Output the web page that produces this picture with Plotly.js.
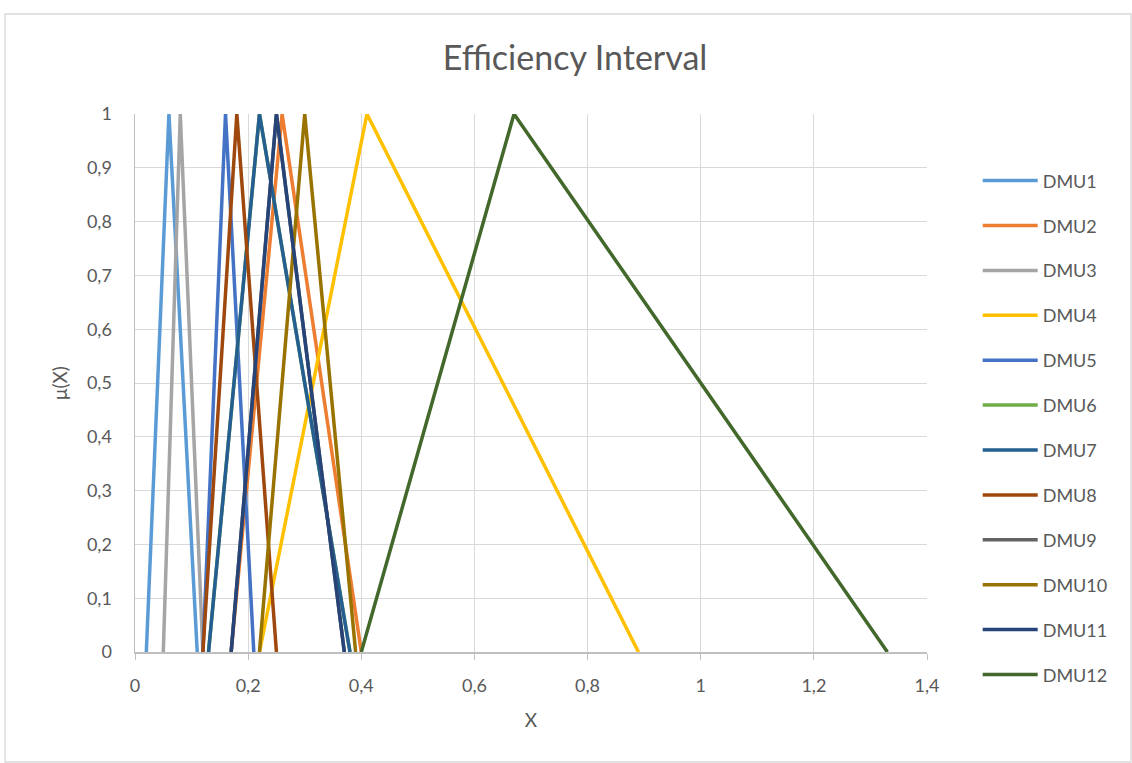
<!DOCTYPE html>
<html>
<head>
<meta charset="utf-8">
<script src="https://cdn.plot.ly/plotly-3.0.1.min.js"></script>
<style>
html,body{margin:0;padding:0;background:#fff;}
#chart{width:1132px;height:763px;}
</style>
</head>
<body>
<div id="chart"></div>
<script>
// Triangular fuzzy numbers (left, peak, right) per DMU
const seriesNames = ["DMU1","DMU2","DMU3","DMU4","DMU5","DMU6","DMU7","DMU8","DMU9","DMU10","DMU11","DMU12"];
const DMU1  = [0.02, 0.06, 0.11];
const DMU2  = [0.17, 0.26, 0.40];
const DMU3  = [0.05, 0.08, 0.12];
const DMU4  = [0.22, 0.41, 0.89];
const DMU5  = [0.12, 0.16, 0.21];
const DMU6  = [0.13, 0.22, 0.38];
const DMU7  = [0.13, 0.22, 0.38];
const DMU8  = [0.12, 0.18, 0.25];
const DMU9  = [0.17, 0.25, 0.37];
const DMU10 = [0.22, 0.30, 0.39];
const DMU11 = [0.17, 0.25, 0.37];
const DMU12 = [0.40, 0.67, 1.33];
const membership = [0, 1, 0];
const xTickVals = [0, 0.2, 0.4, 0.6, 0.8, 1, 1.2, 1.4];
const yTickVals = [0, 0.1, 0.2, 0.3, 0.4, 0.5, 0.6, 0.7, 0.8, 0.9, 1];

const seriesX = [DMU1, DMU2, DMU3, DMU4, DMU5, DMU6, DMU7, DMU8, DMU9, DMU10, DMU11, DMU12];
const colors = ["#5B9BD5","#ED7D31","#A5A5A5","#FFC000","#4472C4","#70AD47","#255E91","#9E480E","#636363","#997300","#264478","#43682B"];

const traces = seriesX.map((xs, i) => ({
  type: "scatter",
  mode: "lines",
  name: seriesNames[i],
  x: xs,
  y: membership,
  line: {color: colors[i], width: 3.5},
  legendgroup: "g" + i,
  hoverinfo: "skip"
}));

const fontFam = "Lato, 'Open Sans', sans-serif";
const layout = {
  width: 1132, height: 763,
  separators: ",.",
  margin: {l: 135, r: 205, t: 114, b: 111},
  paper_bgcolor: "#fff",
  plot_bgcolor: "#fff",
  font: {family: fontFam, color: "#595959", size: 18},
  title: {text: "Efficiency Interval", x: 0.508, xref: "container", xanchor: "center", y: 0.924, yanchor: "middle",
          font: {family: fontFam, size: 34, color: "#595959"}},
  xaxis: {
    range: [0, 1.4], tickvals: xTickVals, tickformat: ",.1~f",
    showgrid: true, gridcolor: "#D9D9D9", gridwidth: 1,
    showline: true, linecolor: "#BFBFBF", linewidth: 1.5,
    ticks: "outside", ticklen: 6, tickcolor: "#BFBFBF",
    zeroline: false,
    tickfont: {size: 18, color: "#595959"},
    ticklabelstandoff: 11,
    title: {text: "X", font: {size: 19, color: "#595959"}, standoff: 18}
  },
  yaxis: {
    range: [0, 1], tickvals: yTickVals, tickformat: ",.1~f",
    showgrid: true, gridcolor: "#D9D9D9", gridwidth: 1,
    showline: true, linecolor: "#BFBFBF", linewidth: 1.5,
    ticks: "", zeroline: false,
    tickfont: {size: 18, color: "#595959"},
    ticklabelstandoff: 18,
    title: {text: "μ(X)", font: {size: 19, color: "#595959"}, standoff: 14}
  },
  legend: {
    x: 1.064, xanchor: "left", y: 0.91, yanchor: "top",
    font: {size: 18, color: "#595959"},
    itemwidth: 55,
    tracegroupgap: 18.5,
    bgcolor: "rgba(0,0,0,0)"
  },
  shapes: [{
    type: "rect", xref: "paper", yref: "paper",
    x0: (5 - 135) / 792, x1: (1131 - 135) / 792,
    y0: (652 - 762) / 538, y1: (652 - 14) / 538,
    line: {color: "#D9D9D9", width: 1.3}, fillcolor: "rgba(0,0,0,0)", layer: "below"
  }],
  showlegend: true
};

Plotly.newPlot("chart", traces, layout, {displayModeBar: false, staticPlot: true});
</script>
</body>
</html>
